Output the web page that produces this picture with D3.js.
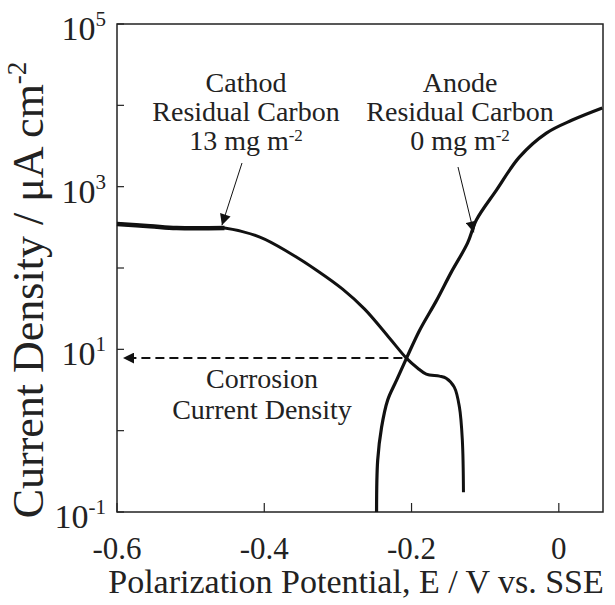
<!DOCTYPE html>
<html>
<head>
<meta charset="utf-8">
<script src="https://cdn.jsdelivr.net/npm/d3@7"></script>
<style>
  body { margin: 0; background: #fff; }
</style>
</head>
<body>
<svg id="chart" width="615" height="605" font-family="'Liberation Serif', 'Times New Roman', serif"></svg>
<script>
// potential (V vs. SSE) and current density (uA cm-2)
var cathodE = [-0.600, -0.555, -0.519, -0.454, -0.406, -0.365, -0.329, -0.2936, -0.2637, -0.2298, -0.207, -0.192, -0.180, -0.162, -0.153, -0.142, -0.135, -0.131, -0.1295];
var cathodI = [347, 327, 310, 310, 240, 152, 94, 55, 31.2, 13.7, 7.8, 5.9, 4.96, 4.68, 4.42, 3.43, 1.95, 0.76, 0.175];

var anodeE = [-0.2475, -0.246, -0.2407, -0.2325, -0.2203, -0.2068, -0.189, -0.166, -0.146, -0.124, -0.112, -0.0847, -0.0536, -0.0169, 0.0183, 0.059];
var anodeI = [0.1, 0.43, 1.1, 2.37, 4.18, 7.8, 17.2, 40, 89, 202, 389, 908, 2310, 4560, 6590, 9270];

var corrE = -0.207, corrI = 7.8;

var xTicks = [-0.6, -0.4, -0.2, 0];
var xTickLabels = ["-0.6", "-0.4", "-0.2", "0"];
var yTicks = [1e-1, 1e0, 1e1, 1e2, 1e3, 1e4, 1e5];
var yLabelExp = [-1, 1, 3, 5];

var margin = {top: 24, right: 12, bottom: 93, left: 117};
var width = 615 - margin.left - margin.right;
var height = 605 - margin.top - margin.bottom;

var svg = d3.select("#chart");
var g = svg.append("g").attr("transform", "translate(" + margin.left + "," + margin.top + ")");

var x = d3.scaleLinear().domain([-0.6, 0.06]).range([0, width]);
var y = d3.scaleLog().domain([0.1, 1e5]).range([height, 0]);

// frame
g.append("rect")
    .attr("width", width).attr("height", height)
    .attr("fill", "none").attr("stroke", "#222").attr("stroke-width", 1.5);

// inside ticks
g.selectAll(".xtick").data(xTicks).enter().append("line")
    .attr("x1", function(d) { return x(d); }).attr("x2", function(d) { return x(d); })
    .attr("y1", height).attr("y2", height - 9)
    .attr("stroke", "#222").attr("stroke-width", 1.2);
g.selectAll(".ytick").data(yTicks).enter().append("line")
    .attr("x1", 0).attr("x2", 7)
    .attr("y1", function(d) { return y(d); }).attr("y2", function(d) { return y(d); })
    .attr("stroke", "#222").attr("stroke-width", 1.2);

// tick labels
g.selectAll(".xlab").data(xTicks).enter().append("text")
    .attr("x", function(d) { return x(d); })
    .attr("y", height + 47)
    .attr("text-anchor", "middle")
    .attr("fill", "#222")
    .style("font-size", "31px")
    .text(function(d, i) { return xTickLabels[i]; });

var yl = g.selectAll(".ylab").data(yLabelExp).enter().append("text")
    .attr("x", -11)
    .attr("y", function(d) { return y(Math.pow(10, d)) + 16; })
    .attr("text-anchor", "end")
    .attr("fill", "#222")
    .style("font-size", "34px");
yl.append("tspan").text("10");
yl.append("tspan").attr("dy", -14).style("font-size", "21px").text(function(d) { return d; });

// axis titles
svg.append("text")
    .attr("x", 356)
    .attr("y", 593)
    .attr("text-anchor", "middle")
    .attr("fill", "#222")
    .style("font-size", "34px")
    .text("Polarization Potential, E / V vs. SSE");

var yt = svg.append("text")
    .attr("transform", "translate(43,290) rotate(-90)")
    .attr("text-anchor", "middle")
    .attr("fill", "#222")
    .style("font-size", "44px");
yt.append("tspan").text("Current Density / \u03bcA cm");
yt.append("tspan").attr("dy", -17).style("font-size", "27px").text("-2");

// curves
var line = d3.line()
    .x(function(d) { return x(d[0]); })
    .y(function(d) { return y(d[1]); })
    .curve(d3.curveCatmullRom.alpha(0.5));

var cathod = d3.zip(cathodE, cathodI);
var anode = d3.zip(anodeE, anodeI);

g.append("path").datum(cathod.slice(0, 4)).attr("d", line)
    .attr("fill", "none").attr("stroke", "#111").attr("stroke-width", 4.5);
g.append("path").datum(cathod).attr("d", line)
    .attr("fill", "none").attr("stroke", "#111").attr("stroke-width", 3);
g.append("path").datum(anode).attr("d", line)
    .attr("fill", "none").attr("stroke", "#111").attr("stroke-width", 3.2);

// arrow heads
var defs = svg.append("defs");
defs.append("marker")
    .attr("id", "head").attr("viewBox", "0 0 10 10")
    .attr("refX", 10).attr("refY", 5)
    .attr("markerUnits", "userSpaceOnUse")
    .attr("markerWidth", 13).attr("markerHeight", 11)
    .attr("orient", "auto")
    .append("path").attr("d", "M0,0 L10,5 L0,10 Z").attr("fill", "#111");

// corrosion current density
g.append("line")
    .attr("x1", x(corrE) - 4).attr("y1", y(corrI))
    .attr("x2", x(-0.6) + 6).attr("y2", y(corrI))
    .attr("stroke", "#111").attr("stroke-width", 2)
    .attr("stroke-dasharray", "9,5")
    .attr("marker-end", "url(#head)");

// annotation arrows
g.append("line")
    .attr("x1", 242 - margin.left).attr("y1", 163 - margin.top)
    .attr("x2", x(-0.4575)).attr("y2", y(300) - 4)
    .attr("stroke", "#111").attr("stroke-width", 1)
    .attr("marker-end", "url(#head)");
g.append("line")
    .attr("x1", 458 - margin.left).attr("y1", 167 - margin.top)
    .attr("x2", x(-0.1155)).attr("y2", y(290) + 2)
    .attr("stroke", "#111").attr("stroke-width", 1)
    .attr("marker-end", "url(#head)");

// annotation text
function block(cx, lines, baseY, step) {
    lines.forEach(function(l, i) {
        var t = svg.append("text")
            .attr("x", cx).attr("y", baseY + i * step)
            .attr("text-anchor", "middle")
            .attr("fill", "#222")
            .style("font-size", "28px");
        t.append("tspan").text(l[0]);
        if (l[1]) t.append("tspan").attr("dy", -9).style("font-size", "17px").text(l[1]);
    });
}
block(246, [["Cathod"], ["Residual Carbon"], ["13 mg m", "-2"]], 92, 29);
block(460, [["Anode"], ["Residual Carbon"], ["0 mg m", "-2"]], 92, 29);
block(262, [["Corrosion"], ["Current Density"]], 388, 31);
</script>
</body>
</html>
